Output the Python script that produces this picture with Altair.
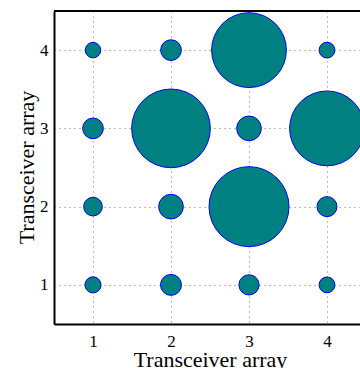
import altair as alt
import pandas as pd

x_pos = [1, 2, 3, 4]
y_pos = [4, 3, 2, 1]
# bubble values, rows from y=4 down to y=1, columns x=1..4
values = [
    [2.4, 4.3, 56.0, 2.5],
    [4.3, 62.0, 6.1, 56.0],
    [3.5, 6.1, 64.0, 4.0],
    [2.6, 4.4, 4.1, 2.5],
]
ticks = [1, 2, 3, 4]

rows = []
for yi, yv in enumerate(y_pos):
    for xi, xv in enumerate(x_pos):
        rows.append({"x": xv, "y": yv, "v": values[yi][xi]})
df = pd.DataFrame(rows)

FONT = "Liberation Serif"

base = alt.Chart(df)

bubbles = base.mark_circle(
    clip=True, color="#008080", stroke="#0000ff", strokeWidth=1, opacity=1
).encode(
    x=alt.X(
        "x:Q",
        scale=alt.Scale(domain=[0.5, 4.423], nice=False, zero=False),
        axis=alt.Axis(
            title="Transceiver array",
            values=ticks,
            format="d",
            ticks=False,
            labelPadding=9,
            titleBaseline="alphabetic",
            titleY=42,
            titleX=156,
            domainColor="black",
            domainWidth=2,
            grid=True,
            gridColor="#777777",
            gridDash=[1, 4],
            gridWidth=1,
        ),
    ),
    y=alt.Y(
        "y:Q",
        scale=alt.Scale(domain=[0.5, 4.5], nice=False, zero=False),
        axis=alt.Axis(
            title="Transceiver array",
            values=ticks,
            format="d",
            ticks=False,
            labelPadding=6,
            titleBaseline="alphabetic",
            titleX=-21,
            titleY=156,
            domainColor="black",
            domainWidth=2,
            grid=True,
            gridColor="#777777",
            gridDash=[1, 4],
            gridWidth=1,
        ),
    ),
    size=alt.Size(
        "v:Q",
        scale=alt.Scale(domain=[0, 100], range=[0, 10000]),
        legend=None,
    ),
)

top_border = base.mark_rule(color="black", strokeWidth=2).encode(
    x=alt.value(0), x2=alt.value(306), y=alt.value(0)
)

chart = (
    alt.layer(bubbles, top_border)
    .properties(
        width=306,
        height=313,
        autosize=alt.AutoSizeParams(type="none"),
        padding={"left": 54, "top": 11, "right": 0, "bottom": 44},
    )
    .configure_view(stroke=None)
    .configure_axis(
        labelFont=FONT,
        labelFontSize=17,
        labelColor="black",
        titleFont=FONT,
        titleFontSize=22,
        titleFontWeight="normal",
        titleColor="black",
    )
)

chart.save("out.html", embed_options={"renderer": "svg", "actions": False})
